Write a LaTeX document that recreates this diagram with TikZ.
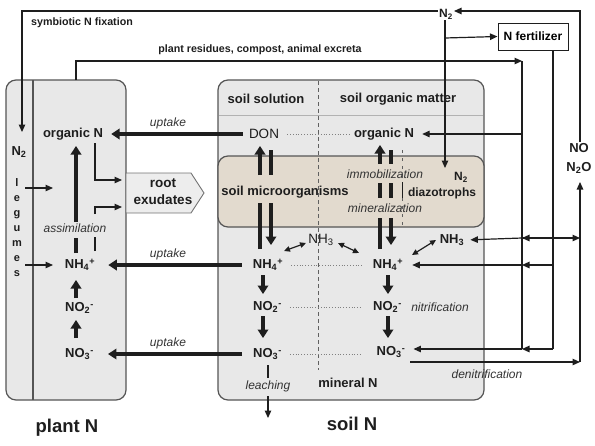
\documentclass[tikz,border=0pt]{standalone}
\usepackage{fontspec}
\setmainfont{Liberation Sans}
\usetikzlibrary{arrows.meta}
\definecolor{panelgray}{HTML}{E8E8E8}
\definecolor{beige}{HTML}{E2DACE}
\definecolor{edgegray}{HTML}{555555}
\definecolor{ink}{HTML}{1E1E1E}
\begin{document}
\begin{tikzpicture}[x=1pt,y=-1pt,
  lbl/.style={inner sep=1pt, text=ink, font=\bfseries\fontsize{13}{15}\selectfont},
  reg/.style={inner sep=1pt, text=ink, font=\fontsize{13.5}{16}\selectfont},
  midb/.style={inner sep=1pt, text=ink, font=\bfseries\fontsize{12}{14}\selectfont},
  smallb/.style={inner sep=1pt, text=ink, font=\bfseries\fontsize{10.7}{13}\selectfont},
  itl/.style={inner sep=0.5pt, text=black!80, font=\itshape\fontsize{12}{14}\selectfont},
  big/.style={inner sep=0pt, text=ink, font=\bfseries\fontsize{18.5}{21}\selectfont},
  panel/.style={draw=edgegray, line width=1.2pt, fill=panelgray, rounded corners=10pt},
  microbe/.style={draw=edgegray, line width=1.2pt, fill=beige, rounded corners=10pt},
  thinln/.style={draw=ink, line width=1.2pt},
  thinarr/.style={draw=ink, line width=1.2pt, -{Triangle[length=7.5pt,width=6.5pt]}},
  dblarr/.style={draw=ink, line width=1.2pt, {Triangle[length=6pt,width=5.5pt]}-{Triangle[length=6pt,width=5.5pt]}},
  thickln/.style={draw=ink, line width=3.2pt},
  thickarr/.style={draw=ink, line width=3.2pt, -{Triangle[length=8.5pt,width=10.5pt]}},
  dotln/.style={draw=gray, line width=0.8pt, dotted},
  fertbox/.style={draw=ink, line width=1pt, fill=white, minimum width=70pt, minimum height=27pt, inner sep=1pt, font=\bfseries\fontsize{12}{14}\selectfont}
]
\useasboundingbox (0,0) rectangle (595,445);

% ---------- panels ----------
\draw[panel] (6,80) rectangle (126,400);
\draw[edgegray, line width=1.1pt] (33,80) -- (33,400);
\draw[panel] (218,80) rectangle (484,400);
\draw[gray!60, line width=0.7pt] (219,115) -- (483,115);
\draw[microbe] (218,156) rectangle (484,227);
\draw[gray!75!black, line width=0.9pt, dash pattern=on 4pt off 3pt] (318,81) -- (318,370);
\draw[gray!75!black, line width=0.6pt, dash pattern=on 3pt off 5pt] (402,150) -- (402,226);
\draw[ink, line width=0.9pt] (402,182) -- (402,198);

% root exudates shape
\draw[fill=black!7, draw=black!55, line width=0.9pt] (126,173) -- (191,173) -- (204,193) -- (191,213) -- (126,213) -- cycle;
\node[inner sep=0pt, align=center, text=ink, font=\bfseries\fontsize{13.5}{17}\selectfont] (exud) at (163,192) {root\\exudates};

% ---------- texts ----------
\node[smallb] (symb) at (82,23) {symbiotic N fixation};
\node[smallb] (resid) at (260,50) {plant residues, compost, animal excreta};
\node[lbl] (hsol) at (266,99) {soil solution};
\node[lbl] (hsom) at (398,99) {soil organic matter};

\node[lbl] (porgN) at (73,134) {organic N};
\node[lbl] (pN2) at (19,152) {N\textsubscript{2}};
\node[inner sep=0pt, align=center, text=ink, font=\bfseries\fontsize{11}{15}\selectfont] (leg) at (17,228) {l\\e\\g\\u\\m\\e\\s};
\node[itl] (passim) at (75,228) {assimilation};
\node[lbl] (pNH4) at (80,265) {NH\textsubscript{4}\textsuperscript{+}};
\node[lbl] (pNO2) at (79.5,308) {NO\textsubscript{2}\textsuperscript{-}};
\node[lbl] (pNO3) at (79.5,354) {NO\textsubscript{3}\textsuperscript{-}};

\node[itl] (up1) at (168,123) {uptake};
\node[itl] (up2) at (168,254) {uptake};
\node[itl] (up3) at (168,343) {uptake};

\node[reg] (DON) at (264,134) {DON};
\node[lbl] (sorgN) at (384,134) {organic N};
\node[lbl] (micro) at (285,192) {soil microorganisms};
\node[itl] (immo) at (385,174) {immobilization};
\node[itl] (mine) at (385,208) {mineralization};
\node[midb] (N2d) at (461,177) {N\textsubscript{2}};
\node[midb] (diaz) at (442,193) {diazotrophs};

\node[reg] (NH3m) at (321,240) {NH\textsubscript{3}};
\node[lbl] (NH3r) at (452,240) {NH\textsubscript{3}};
\node[lbl] (sNH4) at (268,265) {NH\textsubscript{4}\textsuperscript{+}};
\node[lbl] (sNH4r) at (388,265) {NH\textsubscript{4}\textsuperscript{+}};
\node[lbl] (sNO2) at (267.5,307) {NO\textsubscript{2}\textsuperscript{-}};
\node[lbl] (sNO2r) at (387.5,307) {NO\textsubscript{2}\textsuperscript{-}};
\node[lbl] (sNO3) at (267.5,354) {NO\textsubscript{3}\textsuperscript{-}};
\node[lbl] (sNO3r) at (391,352) {NO\textsubscript{3}\textsuperscript{-}};
\node[itl] (nitr) at (440,307) {nitrification};
\node[itl] (denit) at (487,374) {denitrification};
\node[itl] (leach) at (268,386) {leaching};
\node[lbl] (minN) at (348,383) {mineral N};

\node[big] (plantN) at (67,428) {plant N};
\node[big] (soilN) at (352,424) {soil N};

\node[midb] (N2top) at (446,14) {N\textsubscript{2}};
\node[fertbox] (fert) at (533,36.5) {N fertilizer};
\node[lbl] (NO) at (579,148) {NO};
\node[lbl] (N2O) at (579,168) {N\textsubscript{2}O};

% ---------- coordinates ----------
\coordinate (topL) at (22,11);
\coordinate (symtip) at (22,132);
\coordinate (topR) at (580,11);
\coordinate (n2branch) at (445,38);
\coordinate (n2tip) at (445,168);
\coordinate (res0) at (76,80);
\coordinate (res1) at (76,61);
\coordinate (res2) at (522,61);
\coordinate (r134) at (522,134);
\coordinate (r238) at (522,238);
\coordinate (r265) at (522,265);
\coordinate (r349) at (522,349);
\coordinate (f0) at (553,50);
\coordinate (f238) at (553,238);
\coordinate (f265) at (553,265);
\coordinate (f349) at (553,349);
\coordinate (g238) at (580,238);
\coordinate (den0) at (410,362);
\coordinate (den1) at (580,362);
\coordinate (n2otip) at (580,182);
\coordinate (lg1) at (25,188);
\coordinate (lg2) at (53,188);
\coordinate (lg3) at (25,265);
\coordinate (lg4) at (53,265);
\coordinate (ox1) at (95,143);
\coordinate (ox2) at (95,180);
\coordinate (ex1) at (122,180);
\coordinate (nx1) at (95,251);
\coordinate (nx2) at (95,237);
\coordinate (nx3) at (95,214);
\coordinate (nx4) at (95,207);
\coordinate (ex2) at (122,207);
% plant column
\coordinate (pa1) at (76,338); \coordinate (pa2) at (76,320);
\coordinate (pa3) at (76,298); \coordinate (pa4) at (76,280);
\coordinate (pa5) at (76,253); \coordinate (pa6) at (76,238);
\coordinate (pa7) at (76,222); \coordinate (pa8) at (76,146);
% soil columns
\coordinate (sa1) at (263,275); \coordinate (sa2) at (263,294);
\coordinate (sa3) at (263,316); \coordinate (sa4) at (263,338);
\coordinate (ra1) at (388,275); \coordinate (ra2) at (388,294);
\coordinate (ra3) at (388,316); \coordinate (ra4) at (388,338);
% DON <-> microbes
\coordinate (du1) at (260,175); \coordinate (du2) at (260,146);
\coordinate (dd1) at (271,150); \coordinate (dd2) at (271,175);
\coordinate (du3) at (260,249); \coordinate (du4) at (260,203);
\coordinate (dd3) at (271,203); \coordinate (dd4) at (271,245);
% SOM <-> microbes
\coordinate (mu1) at (380,164); \coordinate (mu2) at (380,145);
\coordinate (md1) at (391,150); \coordinate (md2) at (391,164);
\coordinate (mu3) at (380,183); \coordinate (mu4) at (380,198);
\coordinate (md3) at (391,183); \coordinate (md4) at (391,198);
\coordinate (mu5) at (380,249); \coordinate (mu6) at (380,218);
\coordinate (md5) at (391,218); \coordinate (md6) at (391,245);
% NH3 exchanges
\coordinate (x1a) at (284,251); \coordinate (x1b) at (306,243);
\coordinate (x2a) at (338,243); \coordinate (x2b) at (359,253);
\coordinate (x3a) at (412,255); \coordinate (x3b) at (436,240);
% leaching
\coordinate (le1) at (268,365); \coordinate (le2) at (268,378);
\coordinate (le3) at (268,396); \coordinate (le4) at (268,418);

% ---------- connectors: outer loops ----------
\draw[thinarr] (topL -| N2top.west) -- (topL) -- (symtip);
\draw[thinarr] (NO.north -| topR) -- (topR) -- (topR -| N2top.east);
\draw[thinarr] (N2top.south -| n2tip) -- (n2tip);
\draw[thinarr] (n2branch) -- (fert.west);
\draw[thinarr] (res0) -- (res1) -- (res2);
\draw[thinln] (res2) -- (r349);
\draw[thinarr, shorten >=7pt] (r134) -- (sorgN.east);
\draw[thinln] (fert.south -| f0) -- (f349);
\draw[thinarr] (f238) -- (r238);
\draw[thinarr, shorten >=5pt] (r238) -- (NH3r.east);
\draw[thinarr] (r238) -- (g238);
\draw[thinarr] (f265) -- (r265);
\draw[thinarr, shorten >=8pt] (r265) -- (sNH4r.east);
\draw[thinarr] (f349) -- (r349);
\draw[thinarr, shorten >=7pt] (r349) -- (sNO3r.east |- r349);
\draw[thinarr] (den0) -- (den1);
\draw[thinarr] (den1) -- (n2otip);

% ---------- plant internals ----------
\draw[thinarr] (lg1) -- (lg2);
\draw[thinarr] (lg3) -- (lg4);
\draw[thinarr] (ox1) -- (ox2) -- (ex1);
\draw[thinln] (nx1) -- (nx2);
\draw[thinarr] (nx3) -- (nx4) -- (ex2);
\draw[thickarr] (pa1) -- (pa2);
\draw[thickarr] (pa3) -- (pa4);
\draw[thickln] (pa5) -- (pa6);
\draw[thickarr] (pa7) -- (pa8);

% ---------- uptake ----------
\draw[thickarr, shorten <=5pt, shorten >=7pt] (DON.west) -- (porgN.east);
\draw[thickarr, shorten <=10pt, shorten >=12pt] (sNH4.west) -- (pNH4.east);
\draw[thickarr, shorten <=10pt, shorten >=13pt] (sNO3.west) -- (pNO3.east);

% ---------- soil internals ----------
\draw[dotln, shorten <=7pt, shorten >=2pt] (DON.east) -- (sorgN.west);
\draw[dotln, shorten <=7pt, shorten >=10pt] (sNH4.east) -- (sNH4r.west);
\draw[dotln, shorten <=7pt, shorten >=10pt] (sNO2.east) -- (sNO2r.west);
\draw[dotln, shorten <=7pt, shorten >=13pt] (sNO3.east) -- (sNO3r.west |- sNO3.east);

\draw[thickarr] (du1) -- (du2);
\draw[thickln] (dd1) -- (dd2);
\draw[thickln] (du3) -- (du4);
\draw[thickarr] (dd3) -- (dd4);
\draw[thickarr] (mu1) -- (mu2);
\draw[thickln] (md1) -- (md2);
\draw[thickln] (mu3) -- (mu4);
\draw[thickln] (md3) -- (md4);
\draw[thickln] (mu5) -- (mu6);
\draw[thickarr] (md5) -- (md6);

\draw[thickarr] (sa1) -- (sa2);
\draw[thickarr] (sa3) -- (sa4);
\draw[thickarr] (ra1) -- (ra2);
\draw[thickarr] (ra3) -- (ra4);

\draw[dblarr] (x1a) -- (x1b);
\draw[dblarr] (x2a) -- (x2b);
\draw[dblarr] (x3a) -- (x3b);

\draw[thinln] (le1) -- (le2);
\draw[thinarr] (le3) -- (le4);
\end{tikzpicture}
\end{document}
